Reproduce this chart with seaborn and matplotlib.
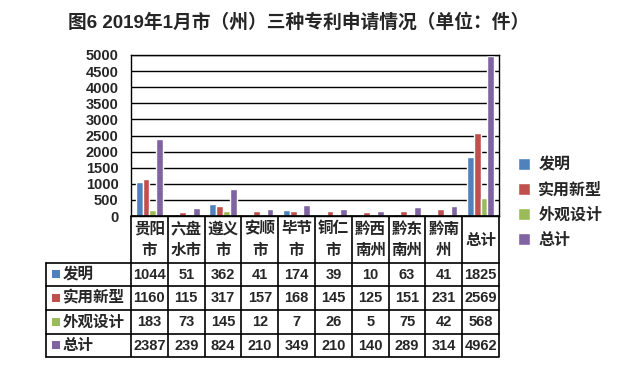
import numpy as np
import pandas as pd
import matplotlib
matplotlib.use("Agg")
import matplotlib.pyplot as plt
import seaborn as sns
from matplotlib.patches import Rectangle

sns.set_theme(style="white")
plt.rcParams['font.family'] = ['Liberation Sans', 'Noto Sans CJK SC', 'DejaVu Sans']
plt.rcParams['font.weight'] = 'bold'

title = "图6 2019年1月市（州）三种专利申请情况（单位：件）"
categories = ["贵阳市", "六盘水市", "遵义市", "安顺市", "毕节市", "铜仁市",
              "黔西南州", "黔东南州", "黔南州", "总计"]
series = ["发明", "实用新型", "外观设计", "总计"]
invention = [1044, 51, 362, 41, 174, 39, 10, 63, 41, 1825]
utility = [1160, 115, 317, 157, 168, 145, 125, 151, 231, 2569]
design = [183, 73, 145, 12, 7, 26, 5, 75, 42, 568]
total = [2387, 239, 824, 210, 349, 210, 140, 289, 314, 4962]
colors = ["#4F81BD", "#C0504D", "#9BBB59", "#8064A2"]
yticks = [0, 500, 1000, 1500, 2000, 2500, 3000, 3500, 4000, 4500, 5000]

values = [invention, utility, design, total]
df = pd.DataFrame({
    "cat": np.repeat([categories], 4, axis=0).ravel(),
    "series": np.repeat(series, len(categories)),
    "value": np.concatenate(values),
})

W, H = 617, 376
fig = plt.figure(figsize=(W / 100, H / 100), dpi=100)
fig.patch.set_facecolor("white")

px_l, px_r, px_t, px_b = 131, 499, 55, 216
ax = fig.add_axes([px_l / W, 1 - px_b / H, (px_r - px_l) / W, (px_b - px_t) / H])
sns.barplot(data=df, x="cat", y="value", hue="series", hue_order=series,
            order=categories, palette=colors, width=0.74, gap=0,
            saturation=1, ax=ax, legend=True)
ax.set_xlim(-0.5, len(categories) - 0.5)
ax.set_ylim(0, 5000)
ax.set_yticks(yticks)
ax.set_yticklabels([str(t) for t in yticks], fontsize=10.5, fontweight='bold')
ax.tick_params(axis='y', length=0, pad=9)
ax.set_xticks([])
ax.set_xlabel("")
ax.set_ylabel("")
ax.grid(axis='y', color='black', linewidth=1)
ax.set_axisbelow(True)
for s in ax.spines.values():
    s.set_color('black')
    s.set_linewidth(1)

handles, labels = ax.get_legend_handles_labels()
ax.get_legend().remove()
fig.legend(handles, labels, loc='upper left', bbox_to_anchor=(512 / W, 1 - 151 / H),
           frameon=False, handlelength=0.75, handleheight=0.75,
           handletextpad=0.5, labelspacing=0.62, borderaxespad=0,
           prop={'weight': 'bold', 'size': 11.5})

# title
fig.text(299 / W, 1 - 22 / H, title, ha='center', va='center',
         fontsize=13.5, fontweight='bold')

# data table drawn in pixel coordinates
tab = fig.add_axes([0, 0, 1, 1], facecolor='none')
tab.set_xlim(0, W)
tab.set_ylim(H, 0)
tab.axis('off')
n = len(categories)
cw = (px_r - px_l) / n
rows_y = [263, 286, 310, 334, 357]
lw = 1.2
for i in range(n + 1):
    x = px_l + i * cw
    tab.plot([x, x], [px_b, rows_y[-1]], color='black', lw=lw, solid_capstyle='butt')
tab.plot([46, 46], [rows_y[0], rows_y[-1]], color='black', lw=lw)
for y in rows_y:
    tab.plot([46, px_r], [y, y], color='black', lw=lw)
tab.plot([px_l, px_r], [px_b, px_b], color='black', lw=lw)

fs = 11.2
for i, name in enumerate(categories):
    xc = px_l + (i + 0.5) * cw
    if len(name) > 2:
        tab.text(xc, 229, name[:2], ha='center', va='center', fontsize=fs, fontweight='bold')
        tab.text(xc, 250, name[2:], ha='center', va='center', fontsize=fs, fontweight='bold')
    else:
        tab.text(xc, 240, name, ha='center', va='center', fontsize=fs, fontweight='bold')
    for r in range(4):
        yc = (rows_y[r] + rows_y[r + 1]) / 2
        tab.text(xc, yc + 0.5, str(values[r][i]), ha='center', va='center',
                 fontsize=10.5, fontweight='bold')
for r in range(4):
    yc = (rows_y[r] + rows_y[r + 1]) / 2
    tab.add_patch(Rectangle((52, yc - 4.5), 8, 8, color=colors[r], lw=0))
    tab.text(63, yc, series[r], ha='left', va='center', fontsize=fs, fontweight='bold')

fig.savefig("out.png", dpi=100)
